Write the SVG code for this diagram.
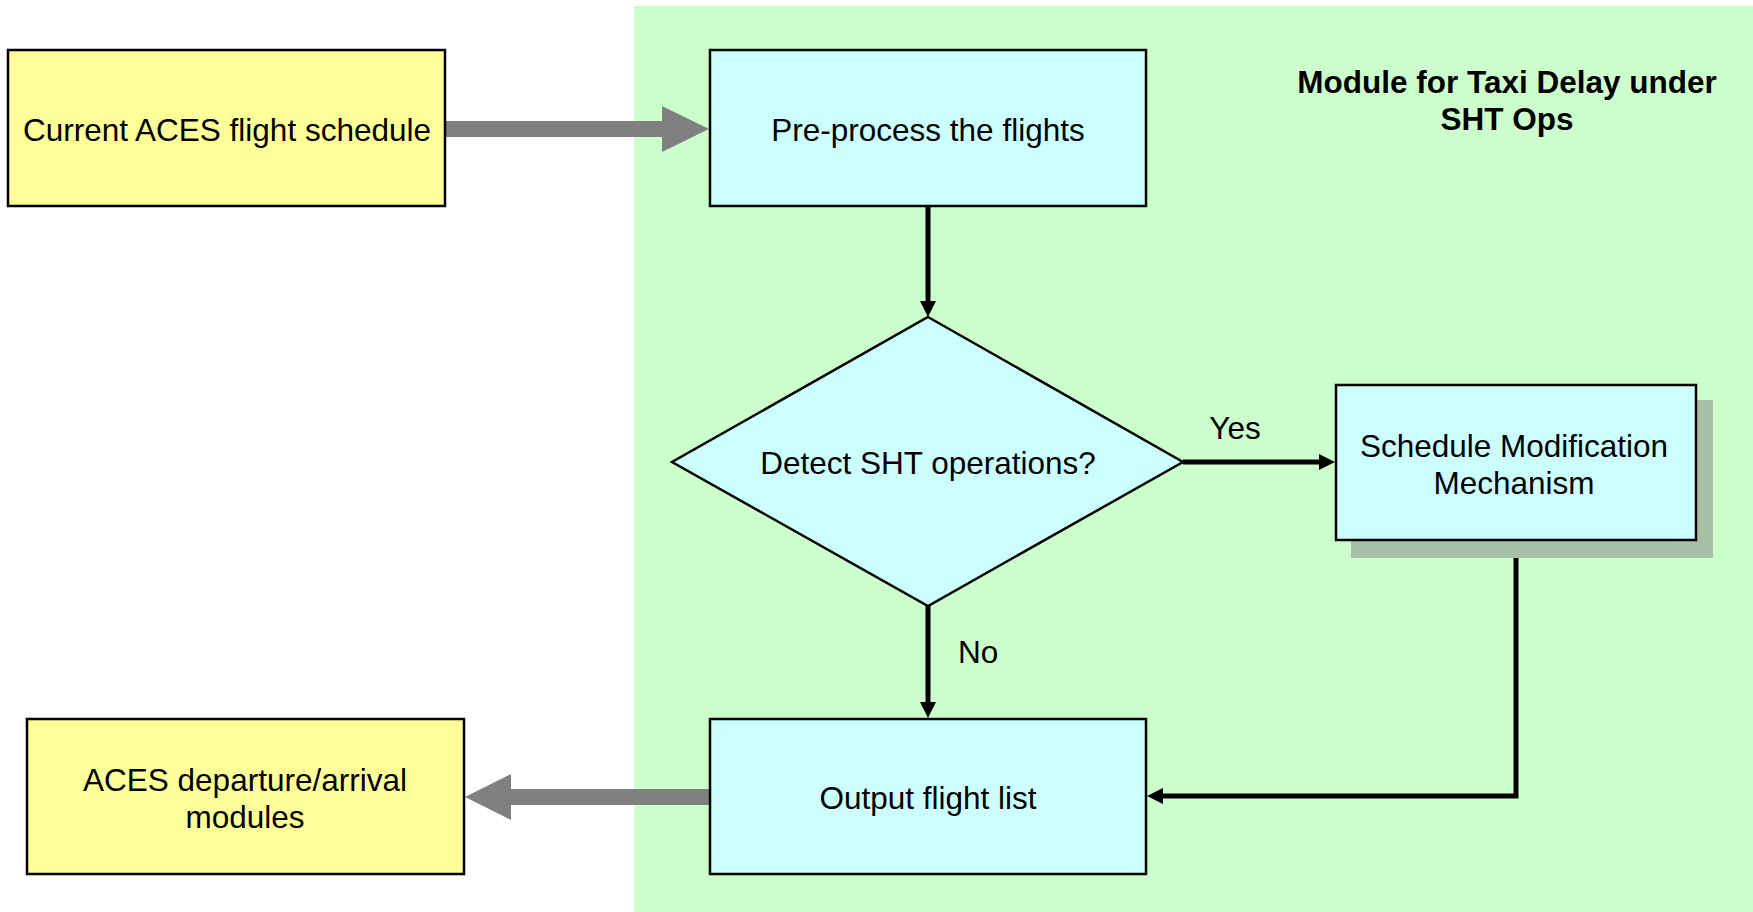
<svg xmlns="http://www.w3.org/2000/svg" width="1753" height="912" viewBox="0 0 1753 912">
  <style>
    .t { font-family: "Liberation Sans", Arial, sans-serif; font-size: 31.5px; fill: #000; text-anchor: middle; }
    .title { font-weight: bold; }
    .yel { fill: #ffff99; stroke: #000; stroke-width: 2.5; }
    .cyan { fill: #ccffff; stroke: #000; stroke-width: 2.5; }
    .conn { fill: none; stroke: #000; stroke-width: 5; }
    .big { fill: #808080; stroke: none; }
  </style>
  <defs>
    <marker id="ah" markerUnits="userSpaceOnUse" markerWidth="16" markerHeight="16" refX="1" refY="8" orient="auto">
      <path d="M0,0 L16,8 L0,16 z" fill="#000"/>
    </marker>
  </defs>
  <rect width="1753" height="912" fill="#ffffff"/>
  <g id="panel">
    <rect x="634" y="6" width="1119" height="906" fill="#ccffcc"/>
    <text class="t title" x="1507" y="93">Module for Taxi Delay under</text>
    <text class="t title" x="1507" y="130">SHT Ops</text>
  </g>
  <g id="connectors">
    <polygon class="big" points="445,121 662,121 662,106 709,129 662,152 662,137 445,137"/>
    <polygon class="big" points="710,789 511,789 511,774 465,797 511,820 511,805 710,805"/>
    <path class="conn" d="M928,206 L928,302" marker-end="url(#ah)"/>
    <path class="conn" d="M1183,462 L1320,462" marker-end="url(#ah)"/>
    <path class="conn" d="M928,606 L928,703" marker-end="url(#ah)"/>
    <path class="conn" d="M1516,540 L1516,796 L1162,796" marker-end="url(#ah)"/>
    <text class="t" x="1235" y="439">Yes</text>
    <text class="t" x="958" y="663" style="text-anchor:start">No</text>
  </g>
  <g id="current-schedule">
    <rect class="yel" x="8" y="50" width="437" height="156"/>
    <text class="t" x="227" y="141">Current ACES flight schedule</text>
  </g>
  <g id="preprocess">
    <rect class="cyan" x="710" y="50" width="436" height="156"/>
    <text class="t" x="928" y="141">Pre-process the flights</text>
  </g>
  <g id="detect">
    <polygon class="cyan" points="928,317 1183,462 928,606 672,462"/>
    <text class="t" x="928" y="474">Detect SHT operations?</text>
  </g>
  <g id="schedule-mod">
    <rect x="1351" y="400" width="362" height="158" fill="#a6bfa6"/>
    <rect class="cyan" x="1336" y="385" width="360" height="155"/>
    <text class="t" x="1514" y="457">Schedule Modification</text>
    <text class="t" x="1514" y="494">Mechanism</text>
  </g>
  <g id="output">
    <rect class="cyan" x="710" y="719" width="436" height="155"/>
    <text class="t" x="928" y="809">Output flight list</text>
  </g>
  <g id="aces-modules">
    <rect class="yel" x="27" y="719" width="437" height="155"/>
    <text class="t" x="245" y="791">ACES departure/arrival</text>
    <text class="t" x="245" y="828">modules</text>
  </g>
</svg>
